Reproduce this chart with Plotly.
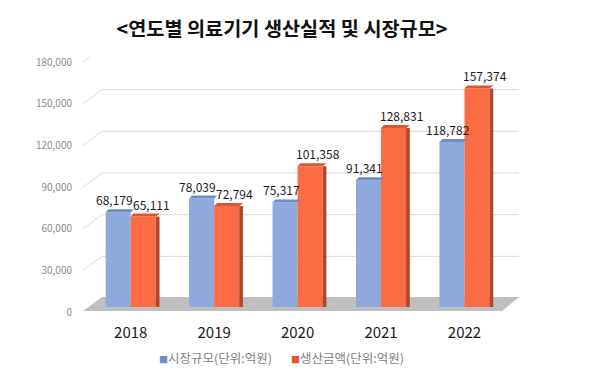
import plotly.graph_objects as go

years = ["2018", "2019", "2020", "2021", "2022"]
market_size = [68179, 78039, 75317, 91341, 118782]
production = [65111, 72794, 101358, 128831, 157374]
y_ticks = [0, 30000, 60000, 90000, 120000, 150000, 180000]

name_market = "시장규모(단위:억원)"
name_prod = "생산금액(단위:억원)"
title_text = "<연도별 의료기기 생산실적 및 시장규모>"

BLUE = "#8EA9DB"
BLUE_CAP = "#6F8CC6"
ORANGE = "#FA6C44"
ORANGE_SIDE = "#B4452B"
ORANGE_CAP = "#E0552F"
FONT = "Noto Sans CJK KR"

# the page body adds an 8px margin, so lay out everything 8px up/left
OFF = 8
W, H = 600, 379
ML = 89 - OFF
MT = 57 - OFF
PW = 420
PH = 250
MR = W - ML - PW
MB = H - MT - PH

fig = go.Figure()
fig.add_trace(go.Bar(x=years, y=market_size, name=name_market, marker=dict(color=BLUE, line=dict(width=0)),
                     offsetgroup="a", showlegend=False))
fig.add_trace(go.Bar(x=years, y=production, name=name_prod, marker=dict(color=ORANGE, line=dict(width=0)),
                     offsetgroup="b", showlegend=False))
# dark side faces of orange bars (3D look)
fig.add_trace(go.Bar(x=years, y=production, offset=0.3, width=0.045,
                     marker=dict(color=ORANGE_SIDE, line=dict(width=0)),
                     showlegend=False, hoverinfo="skip"))

shapes = []
# floor of the 3D plot
shapes.append(dict(type="path", xref="x domain", yref="y domain", xsizemode="pixel", ysizemode="pixel",
                   xanchor=0, yanchor=0, path="M -6,-4 L 413,-4 L 430,10 L 13,10 Z",
                   fillcolor="#BFBFBF", line=dict(width=0), layer="below"))
# back-wall gridlines
for v in y_ticks[1:]:
    shapes.append(dict(type="path", xref="x domain", yref="y", xsizemode="pixel", ysizemode="pixel",
                       xanchor=0, yanchor=v, path="M -6,-5 L 13,9 L 430,9",
                       line=dict(color="#D9D9D9", width=1), layer="below"))
# caps on bar tops
for i, (a, b) in enumerate(zip(market_size, production)):
    shapes.append(dict(type="path", xref="x", yref="y", xsizemode="pixel", ysizemode="pixel",
                       xanchor=i - 0.15, yanchor=a, path="M -12.6,0 L 12.6,0 L 15.6,3 L -9.6,3 Z",
                       fillcolor=BLUE_CAP, line=dict(width=0), layer="above"))
    shapes.append(dict(type="path", xref="x", yref="y", xsizemode="pixel", ysizemode="pixel",
                       xanchor=i + 0.15, yanchor=b, path="M -12.6,0 L 12.6,0 L 16.4,3 L -9.6,3 Z",
                       fillcolor=ORANGE_CAP, line=dict(width=0), layer="above"))

annotations = []
for i, (a, b) in enumerate(zip(market_size, production)):
    annotations.append(dict(x=i - 0.15, y=a, xref="x", yref="y", text=f"{a:,}", showarrow=False,
                            yanchor="bottom", yshift=2, xshift=-4,
                            font=dict(family=FONT, size=12, color="#1A1A1A")))
    annotations.append(dict(x=i + 0.15, y=b, xref="x", yref="y", text=f"{b:,}", showarrow=False,
                            yanchor="bottom", yshift=2, xshift=8,
                            font=dict(family=FONT, size=12, color="#1A1A1A")))

# legend drawn as text with coloured square keys (screen positions)
for px, color, label in [(157, "#6F8CC6", name_market), (289, "#E0552F", name_prod)]:
    annotations.append(dict(x=(px - OFF - ML) / PW, y=(MT + PH - (357 - OFF)) / PH, xref="paper", yref="paper",
                            xanchor="left", yanchor="middle", showarrow=False,
                            text=f'<span style="color:{color};font-size:9px">■</span>{label}',
                            font=dict(family=FONT, size=12.5, color="#7F7F7F")))

fig.update_layout(
    width=W, height=H,
    margin=dict(l=ML, r=MR, t=MT, b=MB, autoexpand=False),
    paper_bgcolor="white", plot_bgcolor="white",
    barmode="group", bargap=0.4, bargroupgap=0,
    font=dict(family=FONT),
    showlegend=False,
    title=dict(text=title_text, x=(282 - OFF) / W, xanchor="center", y=1 - (29 - OFF) / H, yanchor="middle",
               automargin=False, font=dict(family=FONT, size=19.7, color="#111111", weight="bold")),
    xaxis=dict(showgrid=False, showline=False, zeroline=False, ticks="", ticklabelstandoff=15,
               automargin=False, tickfont=dict(family=FONT, size=15, color="#1A1A1A")),
    yaxis=dict(range=[0, 180000], tickvals=y_ticks, tickformat=",", showgrid=False, showline=False,
               zeroline=False, ticks="", ticklabelstandoff=16, ticklabelshift=5, automargin=False,
               tickfont=dict(family=FONT, size=10, color="#8A8A8A")),
    shapes=shapes, annotations=annotations,
)

fig.write_html("out.html")
